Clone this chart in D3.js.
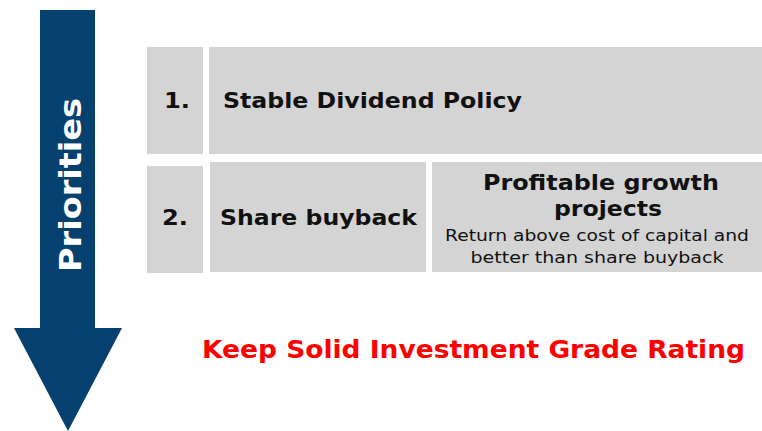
<!DOCTYPE html>
<html>
<head>
<meta charset="utf-8">
<script src="https://cdn.jsdelivr.net/npm/d3@7"></script>
<style>
  html, body { margin: 0; padding: 0; background: #fff; }
  svg { display: block; font-family: "DejaVu Sans", Verdana, sans-serif; }
</style>
</head>
<body>
<div id="chart"></div>
<script>
const W = 762, H = 431;

// content (text + the width each line takes in the reference, Verdana is wider than DejaVu)
const arrowLabel = { text: 'Priorities', len: 174 };
const rankLabels = [{ text: '1.', len: 26 }, { text: '2.', len: 26 }];
const rowItems = [
  [{ title: [{ text: 'Stable Dividend Policy', len: 299 }], note: [] }],
  [{ title: [{ text: 'Share buyback', len: 197 }], note: [] },
   { title: [{ text: 'Profitable growth', len: 236 }, { text: 'projects', len: 108 }],
     note: [{ text: 'Return above cost of capital and', len: 304 }, { text: 'better than share buyback', len: 253 }] }]
];
const footer = { text: 'Keep Solid Investment Grade Rating', len: 543 };

const boxFill = '#d4d4d4';
const navy = '#05406e';

const svg = d3.select('#chart').append('svg')
  .attr('width', W).attr('height', H);

function label(g, t) {
  return g.append('text')
    .attr('textLength', t.len)
    .attr('lengthAdjust', 'spacingAndGlyphs')
    .text(t.text);
}

// arrow
const arrow = d3.path();
arrow.moveTo(40, 10);
arrow.lineTo(95, 10);
arrow.lineTo(95, 328);
arrow.lineTo(122, 328);
arrow.lineTo(68, 431);
arrow.lineTo(14, 328);
arrow.lineTo(40, 328);
arrow.closePath();
svg.append('path').attr('d', arrow.toString()).attr('fill', navy);

label(svg, arrowLabel)
  .attr('x', -272).attr('y', 81)
  .attr('transform', 'rotate(-90)')
  .attr('fill', '#fff')
  .attr('font-size', 31)
  .attr('font-weight', 'bold');

// rows layout
const rows = [
  { y0: 47, y1: 154, num: [147, 203], cells: [[209, 762]], base: 108 },
  { y0: 162, y1: 272, num: [147, 203], cells: [[210, 426], [432, 762]], base: 225 }
];

rows.forEach((r, i) => {
  const g = svg.append('g');
  const ny0 = i === 1 ? r.y0 + 4 : r.y0;
  g.append('rect')
    .attr('x', r.num[0]).attr('y', ny0)
    .attr('width', r.num[1] - r.num[0]).attr('height', r.y1 - ny0 + (i === 1 ? 1 : 0))
    .attr('fill', boxFill);
  label(g, rankLabels[i])
    .attr('x', i === 0 ? 164 : 162)
    .attr('y', r.base)
    .attr('font-size', 21).attr('font-weight', 'bold').attr('fill', '#111');

  rowItems[i].forEach((item, j) => {
    const [x0, x1] = r.cells[j];
    g.append('rect')
      .attr('x', x0).attr('y', r.y0)
      .attr('width', x1 - x0).attr('height', r.y1 - r.y0)
      .attr('fill', boxFill);
    if (item.note.length === 0) {
      label(g, item.title[0])
        .attr('x', i === 0 ? 223 : 220)
        .attr('y', r.base)
        .attr('font-size', 21).attr('font-weight', 'bold').attr('fill', '#111');
    } else {
      const cx = (x0 + x1) / 2 + 4;
      item.title.forEach((t, k) => {
        label(g, t)
          .attr('x', cx + (k === 1 ? 7 : 0)).attr('y', 190 + k * 26)
          .attr('text-anchor', 'middle')
          .attr('font-size', 21).attr('font-weight', 'bold').attr('fill', '#111');
      });
      item.note.forEach((t, k) => {
        label(g, t)
          .attr('x', cx - 4).attr('y', 241 + k * 22)
          .attr('text-anchor', 'middle')
          .attr('font-size', 16.5).attr('fill', '#111');
      });
    }
  });
});

label(svg, footer)
  .attr('x', 202).attr('y', 358)
  .attr('font-size', 24.5).attr('font-weight', 'bold').attr('fill', '#ff0000');
</script>
</body>
</html>
